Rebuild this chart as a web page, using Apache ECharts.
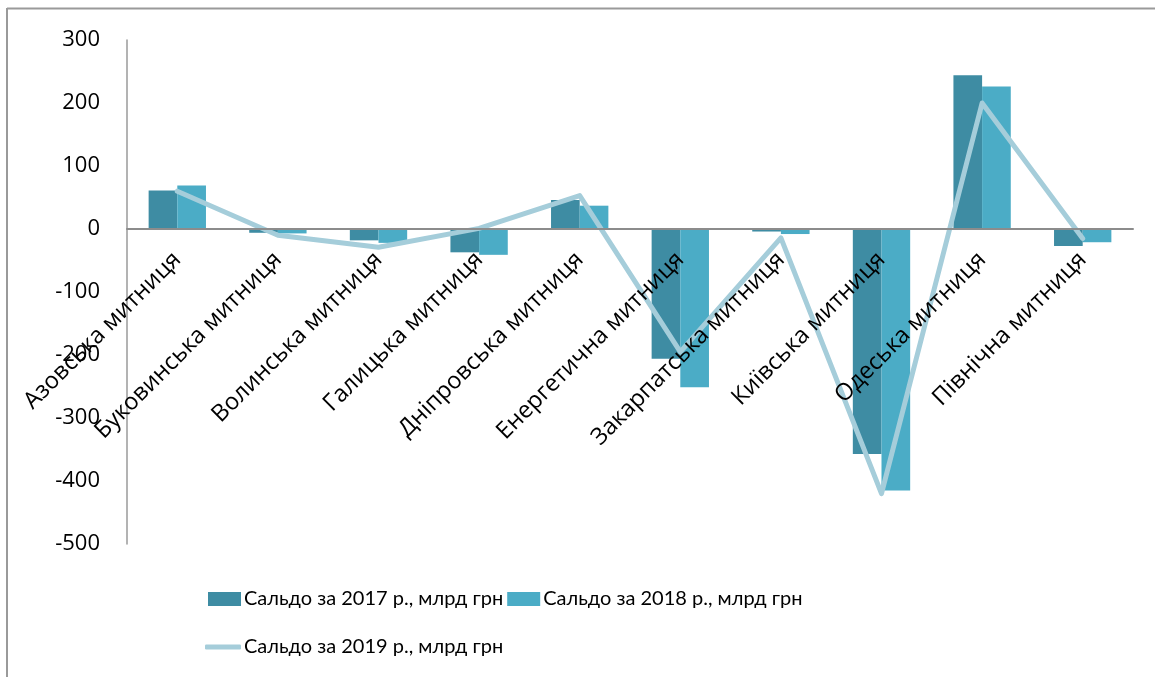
<!DOCTYPE html>
<html>
<head>
<meta charset="utf-8">
<script src="https://cdn.jsdelivr.net/npm/echarts@6/dist/echarts.min.js"></script>
<style>
  html, body { margin: 0; padding: 0; background: #fff; }
  #chart { width: 1155px; height: 677px; }
</style>
</head>
<body>
<div id="chart"></div>
<script>
// Customs offices (митниці)
const categories = [
  'Азовська митниця', 'Буковинська митниця', 'Волинська митниця',
  'Галицька митниця', 'Дніпровська митниця', 'Енергетична митниця',
  'Закарпатська митниця', 'Київська митниця', 'Одеська митниця',
  'Північна митниця'
];

// Trade balance by year, bn UAH
const saldo2017 = [61, -6, -18, -37, 46, -206, -4, -357, 244, -27];
const saldo2018 = [69, -7, -22, -41, 37, -251, -8, -415, 226, -21];
const saldo2019 = [60, -10, -29, 1, 53, -195, -14, -420, 200, -15];

const seriesNames = [
  'Сальдо за 2017 р., млрд грн',
  'Сальдо за 2018 р., млрд грн',
  'Сальдо за 2019 р., млрд грн'
];

const yTicks = { min: -500, max: 300, interval: 100 };

const colors = ['#3E8CA3', '#4BACC6', '#A5CDDA'];
const legendFont = "Lato, 'Open Sans', sans-serif";

// Plot box
const GRID = { left: 127, right: 22, top: 40, bottom: 133 };
const plotH = 677 - GRID.top - GRID.bottom;
// move the category axis up from the plot bottom to the zero level
const zeroShift = plotH * (0 - yTicks.min) / (yTicks.max - yTicks.min);

const chart = echarts.init(document.getElementById('chart'), null, { renderer: 'canvas' });

chart.setOption({
  animation: false,
  backgroundColor: '#ffffff',
  color: colors,
  grid: Object.assign({ containLabel: false, outerBoundsMode: 'none' }, GRID),
  graphic: [
    { type: 'line', shape: { x1: 7, y1: 8.5, x2: 1155, y2: 8.5 }, style: { stroke: '#9a9a9a', lineWidth: 2 }, z: 0 },
    { type: 'line', shape: { x1: 7, y1: 8, x2: 7, y2: 677 }, style: { stroke: '#9a9a9a', lineWidth: 2 }, z: 0 }
  ],
  legend: [
    {
      data: [seriesNames[0], seriesNames[1]],
      left: 203, top: 584,
      orient: 'horizontal',
      itemWidth: 33, itemHeight: 14, itemGap: 4,
      icon: 'rect',
      textStyle: { fontSize: 20, color: '#000', fontFamily: legendFont, padding: [0, 0, 0, -2] }
    },
    {
      data: [seriesNames[2]],
      left: 200, top: 632,
      itemWidth: 36, itemHeight: 5, itemGap: 4,
      icon: 'roundRect',
      textStyle: { fontSize: 20, color: '#000', fontFamily: legendFont, padding: [0, 0, 0, -2] }
    }
  ],
  xAxis: {
    type: 'category',
    data: categories,
    offset: -zeroShift,
    axisLine: { onZero: false, lineStyle: { color: '#8c8c8c', width: 2 } },
    axisTick: { show: false },
    axisLabel: {
      interval: 0,
      rotate: 45,
      margin: 27,
      fontSize: 23.5,
      color: '#000',
      fontFamily: "'Open Sans', sans-serif"
    },
    z: 10
  },
  yAxis: {
    type: 'value',
    min: yTicks.min, max: yTicks.max, interval: yTicks.interval,
    axisLine: { show: true, lineStyle: { color: '#9a9a9a', width: 1.5 } },
    axisTick: { show: false },
    splitLine: { show: false },
    axisLabel: {
      margin: 27,
      fontSize: 22,
      color: '#000',
      fontFamily: "'Open Sans', sans-serif"
    }
  },
  series: [
    {
      name: seriesNames[0], type: 'bar', data: saldo2017,
      barGap: '0%', barCategoryGap: '43%',
      itemStyle: { color: colors[0] }
    },
    {
      name: seriesNames[1], type: 'bar', data: saldo2018,
      itemStyle: { color: colors[1] }
    },
    {
      name: seriesNames[2], type: 'line', data: saldo2019,
      symbol: 'none', showSymbol: false,
      lineStyle: { color: colors[2], width: 5, cap: 'round', join: 'round' },
      itemStyle: { color: colors[2] },
      z: 5
    }
  ]
});
</script>
</body>
</html>
